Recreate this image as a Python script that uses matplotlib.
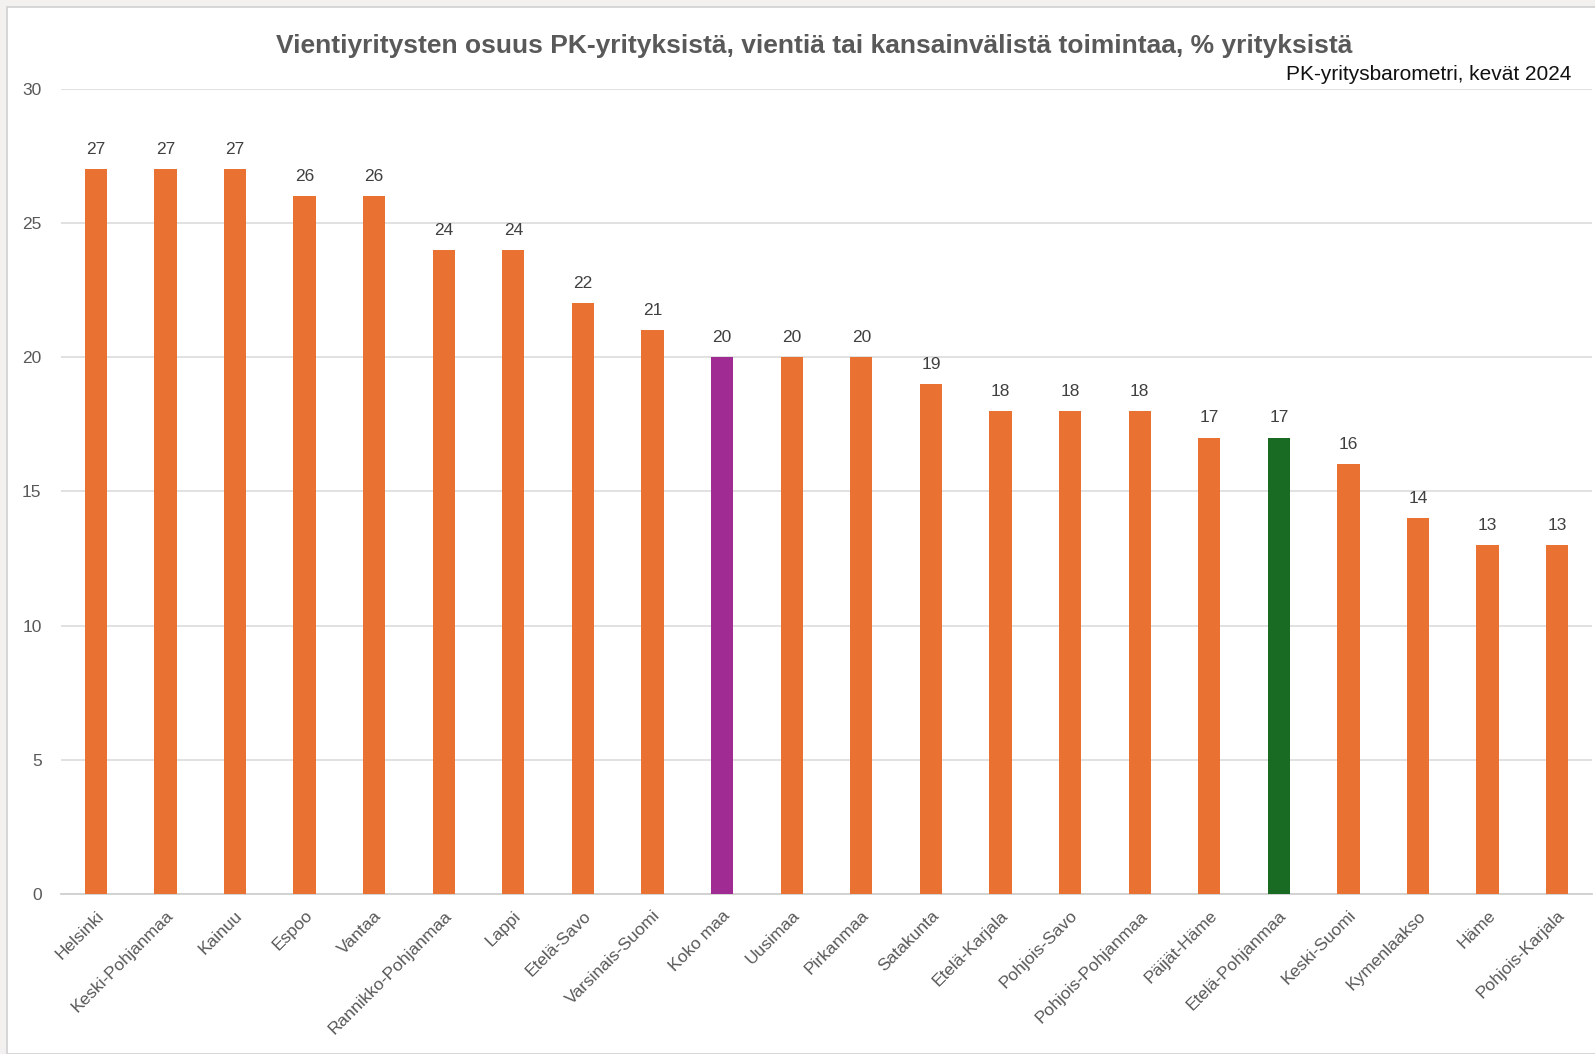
import matplotlib
matplotlib.use("Agg")
import matplotlib.pyplot as plt
from matplotlib.patches import Rectangle

regions = ["Helsinki", "Keski-Pohjanmaa", "Kainuu", "Espoo", "Vantaa",
           "Rannikko-Pohjanmaa", "Lappi", "Etelä-Savo", "Varsinais-Suomi",
           "Koko maa", "Uusimaa", "Pirkanmaa", "Satakunta", "Etelä-Karjala",
           "Pohjois-Savo", "Pohjois-Pohjanmaa", "Päijät-Häme", "Etelä-Pohjanmaa",
           "Keski-Suomi", "Kymenlaakso", "Häme", "Pohjois-Karjala"]
values = [27, 27, 27, 26, 26, 24, 24, 22, 21, 20, 20, 20, 19, 18, 18, 18,
          17, 17, 16, 14, 13, 13]
highlight = {"Koko maa": "#A02B93", "Etelä-Pohjanmaa": "#196B24"}
base_color = "#E97132"

plt.rcParams['font.family'] = ['Liberation Sans', 'DejaVu Sans']

fig = plt.figure(figsize=(15.95, 10.54), dpi=100)
fig.patch.set_facecolor("#F2F1EF")
# white chart panel inside the screenshot frame
fig.patches.append(Rectangle((7 / 1595, 0), 1, 1 - 7 / 1054, transform=fig.transFigure,
                             facecolor="white", edgecolor="#D0D0D0", linewidth=1.2,
                             zorder=-10))

ax = fig.add_axes([61 / 1595, 160 / 1054, 1531 / 1595, 805.5 / 1054])
ax.set_facecolor("white")

x = range(len(regions))
colors = [highlight.get(r, base_color) for r in regions]
bars = ax.bar(x, values, width=0.32, color=colors, zorder=3)

for xi, v in zip(x, values):
    ax.text(xi, v + 0.45, str(v), ha="center", va="bottom", fontsize=12.5,
            color="#404040")

ax.set_xlim(-0.5, len(regions) - 0.5)
ax.set_ylim(0, 30)
ax.set_yticks(range(0, 31, 5))
ax.yaxis.grid(True, color="#D9D9D9", linewidth=1.1, zorder=0)
ax.tick_params(axis="y", length=0, pad=14, labelsize=12.5, labelcolor="#595959")
ax.tick_params(axis="x", length=0, pad=10, labelsize=12.5, labelcolor="#595959")
ax.set_xticks(list(x))
ax.set_xticklabels(regions, rotation=45, ha="right", rotation_mode="anchor")
for s in ["top", "right", "left"]:
    ax.spines[s].set_visible(False)
ax.spines["bottom"].set_color("#D0D0D0")
ax.spines["bottom"].set_linewidth(1.3)

fig.text(814 / 1595, 1 - 46 / 1054,
         "Vientiyritysten osuus PK-yrityksistä, vientiä tai kansainvälistä toimintaa, % yrityksistä",
         ha="center", va="center", fontsize=19, fontweight="bold", color="#595959")
fig.text(1571 / 1595, 1 - 75 / 1054, "PK-yritysbarometri, kevät 2024",
         ha="right", va="center", fontsize=15, color="#111111")

fig.savefig("out.png", dpi=100, facecolor=fig.get_facecolor())
